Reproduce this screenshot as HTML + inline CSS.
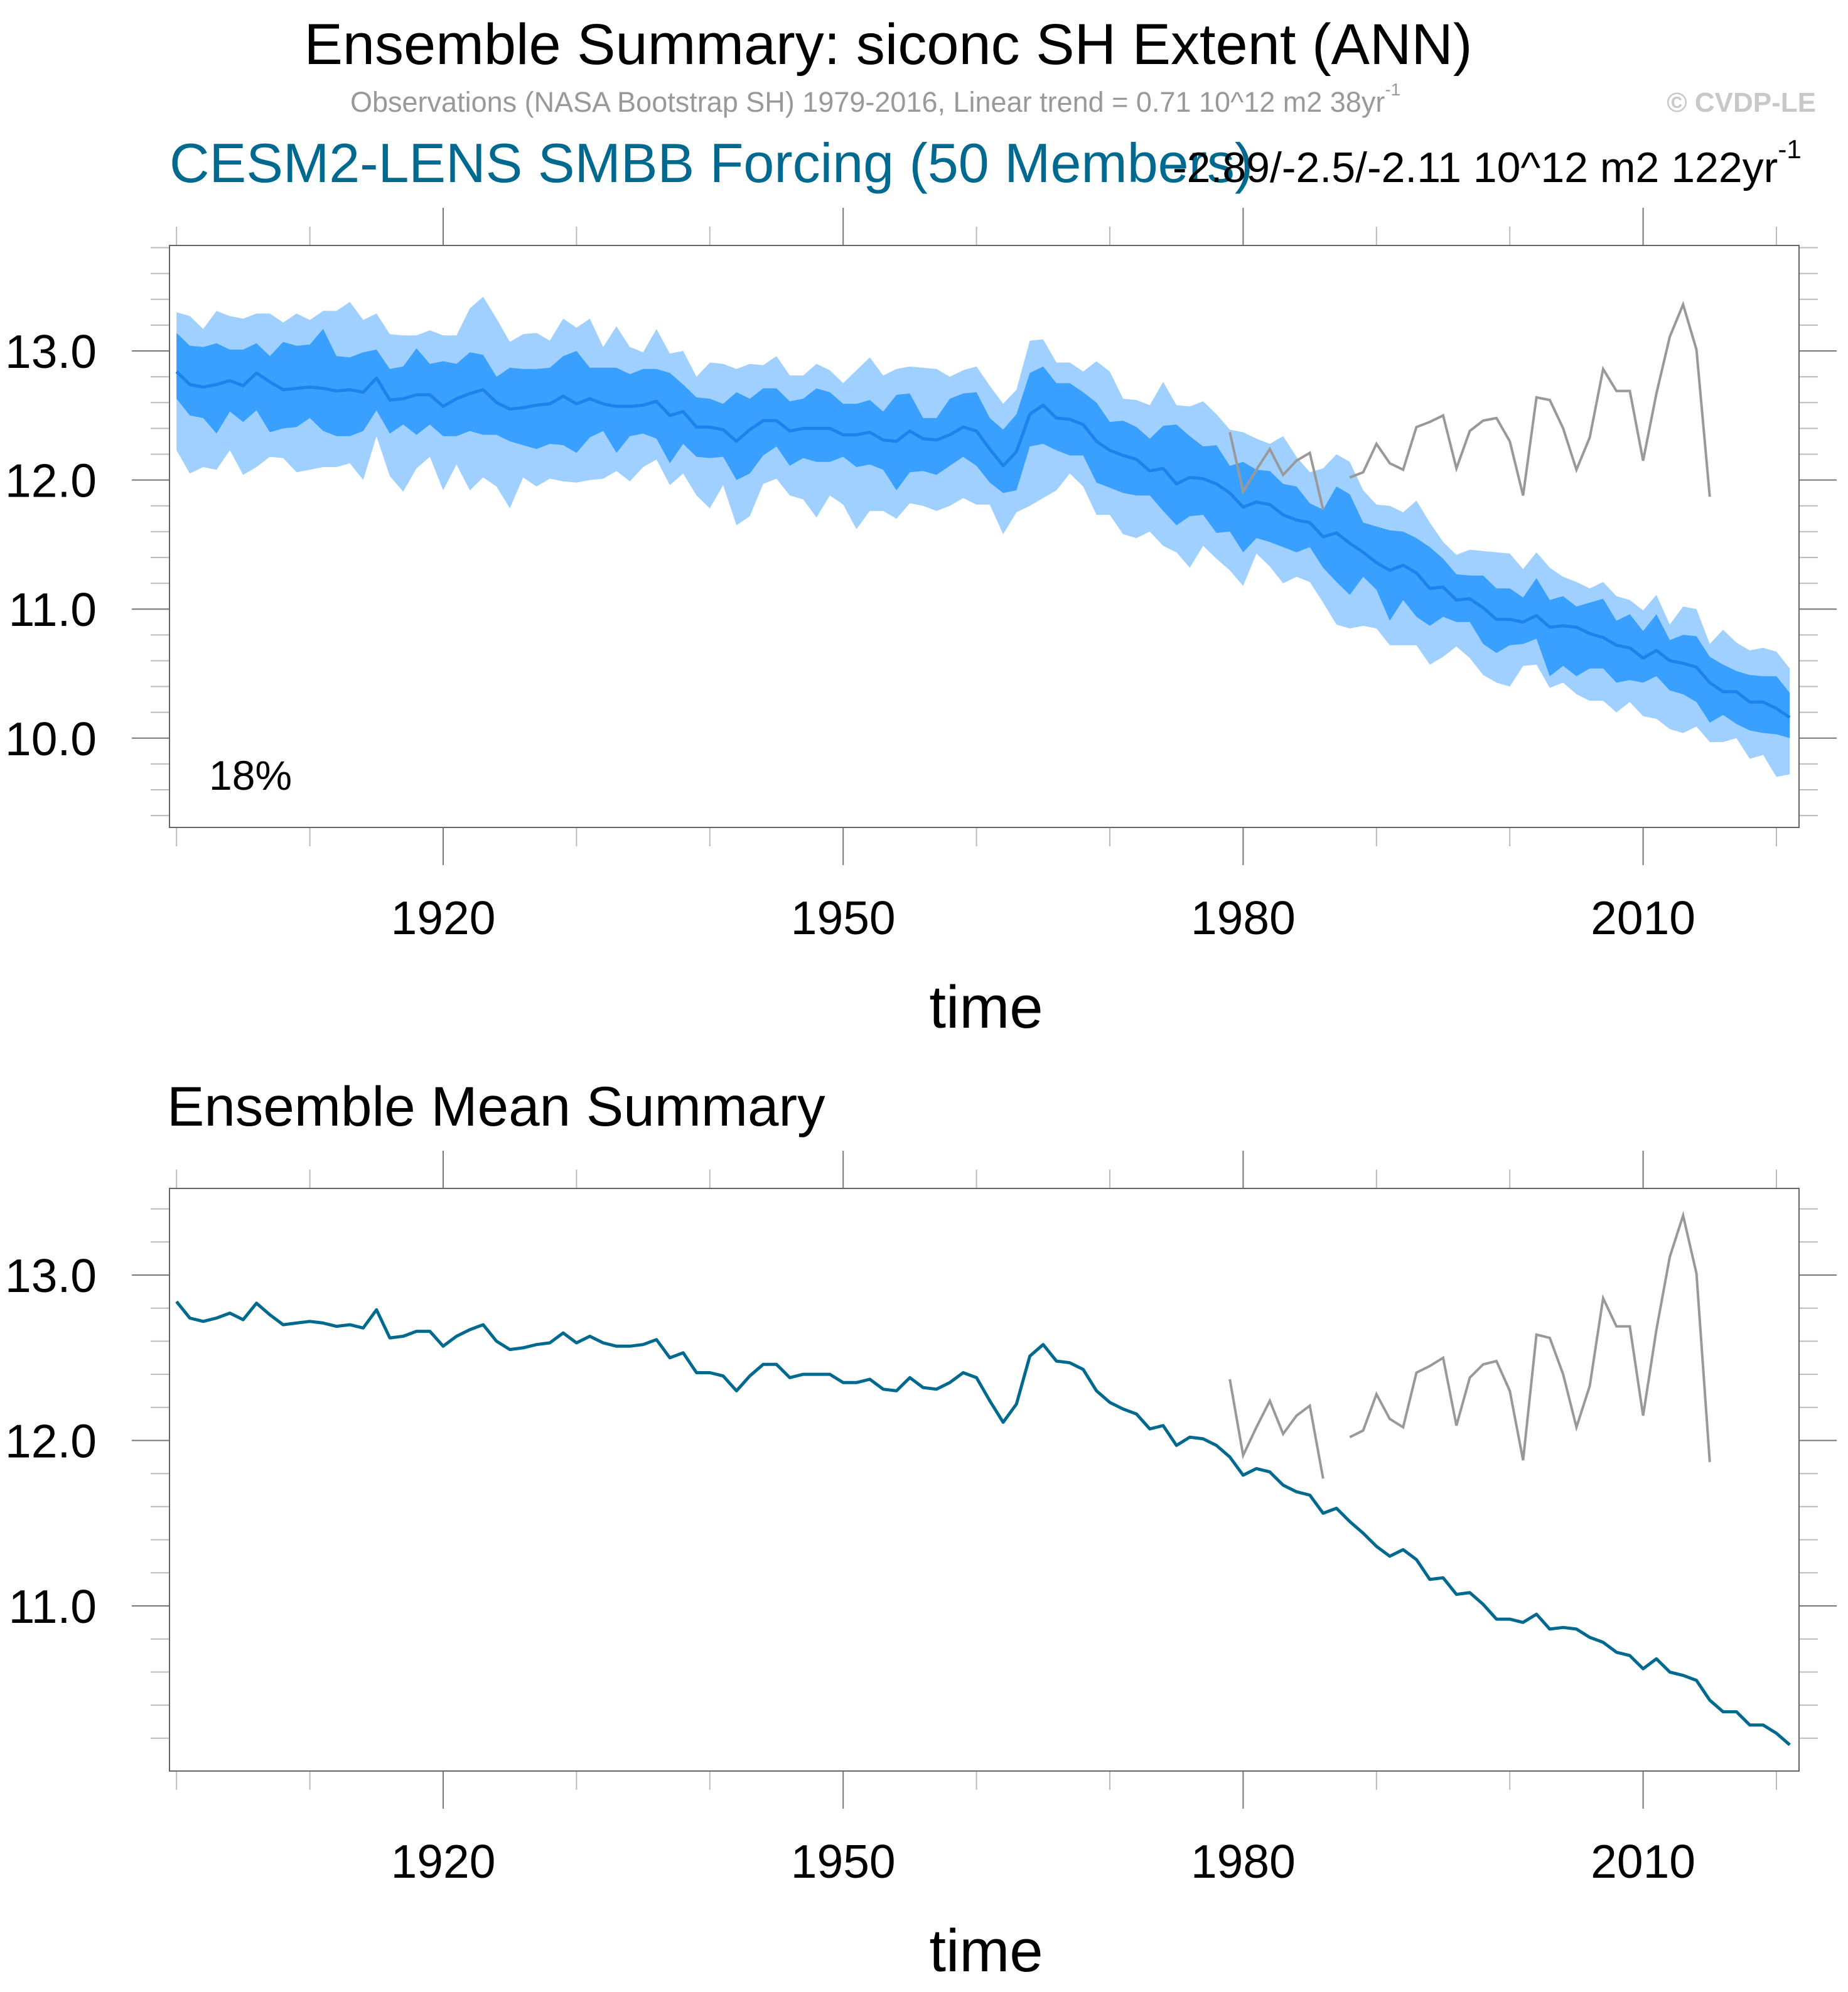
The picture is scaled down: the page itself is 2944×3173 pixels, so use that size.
<!DOCTYPE html>
<html><head><meta charset="utf-8"><style>html,body{margin:0;padding:0;background:#fff}svg{display:block}</style></head>
<body>
<svg id="chart" xmlns="http://www.w3.org/2000/svg" width="2944" height="3173" viewBox="0 0 2944 3173" font-family="'Liberation Sans', sans-serif">
<rect width="2944" height="3173" fill="#fff"/>
<text x="1415" y="102" font-size="92" text-anchor="middle" fill="#000">Ensemble Summary: siconc SH Extent (ANN)</text>
<text x="558" y="178" font-size="45" fill="#999">Observations (NASA Bootstrap SH) 1979-2016, Linear trend = 0.71 10^12 m2 38yr<tspan font-size="28" dy="-26">-1</tspan></text>
<text x="2893" y="178" font-size="44" font-weight="bold" fill="#c8c8c8" text-anchor="end">© CVDP-LE</text>
<text x="270" y="290" font-size="88" fill="#00698f">CESM2-LENS SMBB Forcing (50 Members)</text>
<text x="1868" y="290" font-size="68" fill="#000">-2.89/-2.5/-2.11 10^12 m2 122yr<tspan font-size="42" dy="-38">-1</tspan></text>
<text x="333" y="1258" font-size="66" fill="#000">18%</text>
<text x="266" y="1793" font-size="89" fill="#000">Ensemble Mean Summary</text>
<g id="top"></g>
<g id="bot"></g>
</svg>
<script>
const years = []; for (let y = 1900; y <= 2021; y++) years.push(y);
const ensMean = [12.84,12.74,12.72,12.74,12.77,12.73,12.83,12.76,12.70,12.71,12.72,12.71,12.69,12.70,12.68,12.79,12.62,12.63,12.66,12.66,
12.57,12.63,12.67,12.70,12.60,12.55,12.56,12.58,12.59,12.65,12.59,12.63,12.59,12.57,12.57,12.58,12.61,12.50,12.53,12.41,
12.41,12.39,12.30,12.39,12.46,12.46,12.38,12.40,12.40,12.40,12.35,12.35,12.37,12.31,12.30,12.38,12.32,12.31,12.35,12.41,
12.38,12.24,12.11,12.22,12.51,12.58,12.48,12.47,12.43,12.30,12.23,12.19,12.16,12.07,12.09,11.97,12.02,12.01,11.97,11.90,
11.79,11.83,11.81,11.73,11.69,11.67,11.56,11.59,11.51,11.44,11.36,11.30,11.34,11.28,11.16,11.17,11.07,11.08,11.01,10.92,
10.92,10.90,10.95,10.86,10.87,10.86,10.81,10.78,10.72,10.70,10.62,10.68,10.60,10.58,10.55,10.43,10.36,10.36,10.28,10.28,10.23,10.16];
const outerHigh = [13.30,13.27,13.17,13.31,13.27,13.25,13.29,13.29,13.22,13.29,13.24,13.31,13.31,13.38,13.24,13.29,13.13,13.12,13.12,13.16,
13.12,13.12,13.33,13.42,13.25,13.07,13.13,13.14,13.08,13.25,13.18,13.25,13.03,13.19,13.03,12.99,13.17,12.98,13.00,12.80,
12.91,12.90,12.86,12.90,12.89,12.96,12.81,12.81,12.90,12.85,12.75,12.85,12.95,12.81,12.86,12.88,12.87,12.86,
12.80,12.85,12.88,12.73,12.59,12.70,13.08,13.09,12.91,12.91,12.84,12.92,12.84,12.63,12.62,12.58,12.76,12.58,12.57,12.61,12.51,12.39,
12.37,12.32,12.28,12.34,12.18,12.06,12.09,12.20,12.14,11.92,11.81,11.80,11.75,11.84,11.67,11.52,11.42,11.46,11.45,11.44,
11.43,11.31,11.44,11.32,11.25,11.21,11.16,11.21,11.10,11.07,10.99,11.11,10.88,11.02,11.00,10.73,10.84,10.74,10.68,10.70,10.67,10.54];
const innerHigh = [13.14,13.04,13.03,13.06,13.01,13.01,13.06,12.96,13.07,13.04,13.05,13.17,12.96,12.95,12.99,13.01,12.86,12.88,13.02,12.90,
12.92,12.90,12.99,12.97,12.80,12.87,12.86,12.86,12.87,12.96,13.00,12.87,12.87,12.87,12.82,12.86,12.86,12.83,12.74,12.64,
12.63,12.59,12.68,12.63,12.71,12.71,12.61,12.63,12.71,12.68,12.59,12.59,12.62,12.53,12.66,12.67,12.48,12.48,
12.63,12.67,12.68,12.48,12.39,12.51,12.83,12.88,12.75,12.75,12.68,12.60,12.45,12.46,12.41,12.32,12.42,12.43,12.34,12.26,12.27,12.11,
12.14,12.08,12.07,11.97,11.95,11.82,11.77,11.95,11.89,11.67,11.64,11.61,11.60,11.55,11.48,11.39,11.27,11.26,11.26,11.16,
11.16,11.09,11.24,11.07,11.10,11.02,11.05,11.08,10.91,10.96,10.83,10.96,10.76,10.80,10.79,10.63,10.57,10.52,10.49,10.48,10.48,10.35];
const innerLow = [12.63,12.50,12.48,12.36,12.53,12.45,12.54,12.37,12.40,12.41,12.48,12.38,12.34,12.34,12.38,12.54,12.36,12.43,12.35,12.43,
12.34,12.34,12.38,12.35,12.35,12.30,12.27,12.24,12.28,12.27,12.21,12.33,12.38,12.21,12.34,12.36,12.32,12.13,12.28,12.18,
12.17,12.18,12.00,12.05,12.19,12.26,12.11,12.17,12.14,12.14,12.18,12.10,12.12,12.08,11.92,12.06,12.07,12.04,
12.11,12.18,12.11,11.98,11.90,11.92,12.26,12.28,12.23,12.19,12.19,11.98,11.94,11.90,11.88,11.88,11.76,11.65,11.72,11.73,11.59,11.60,
11.44,11.55,11.52,11.48,11.44,11.48,11.32,11.21,11.11,11.25,11.15,10.91,11.07,10.94,10.87,10.94,10.90,10.90,10.73,10.66,
10.72,10.73,10.77,10.48,10.56,10.48,10.54,10.54,10.43,10.45,10.43,10.48,10.37,10.34,10.28,10.12,10.18,10.11,10.06,10.04,10.03,10.00];
const outerLow = [12.23,12.05,12.10,12.08,12.23,12.04,12.10,12.18,12.17,12.06,12.08,12.10,12.10,12.13,12.00,12.34,12.03,11.91,12.09,12.18,
11.92,12.12,11.92,12.02,11.95,11.78,12.02,11.95,12.01,11.99,11.98,12.00,12.01,12.07,11.99,12.10,12.16,11.96,12.05,11.88,
11.78,11.96,11.65,11.72,11.97,12.01,11.88,11.85,11.71,11.88,11.81,11.62,11.76,11.76,11.70,11.82,11.80,11.76,
11.80,11.86,11.81,11.81,11.58,11.75,11.80,11.86,11.92,12.05,11.95,11.73,11.73,11.58,11.55,11.60,11.49,11.44,11.32,11.49,11.39,11.30,
11.18,11.43,11.33,11.20,11.25,11.21,11.05,10.88,10.85,10.87,10.85,10.72,10.72,10.72,10.57,10.63,10.71,10.62,10.49,10.43,
10.40,10.56,10.57,10.39,10.43,10.34,10.29,10.29,10.20,10.28,10.17,10.15,10.07,10.04,10.09,9.97,9.97,10.00,9.84,9.87,9.70,9.72];
const obsYears = []; for (let y = 1979; y <= 2015; y++) obsYears.push(y);
const obsValues = [12.37,11.91,12.08,12.24,12.04,12.15,12.21,11.77,null,12.02,12.06,12.28,12.13,12.08,12.41,12.45,12.50,12.09,12.38,12.46,
12.48,12.30,11.88,12.64,12.62,12.40,12.08,12.33,12.86,12.69,12.69,12.15,12.67,13.11,13.36,13.01,11.87];
const xMajorTicks = [1920, 1950, 1980, 2010];
const xMinorTicks = [1900, 1910, 1930, 1940, 1960, 1970, 1990, 2000, 2020];
const topYLabels = [10.0, 11.0, 12.0, 13.0];
const botYLabels = [11.0, 12.0, 13.0];

const NS = 'http://www.w3.org/2000/svg';
function mk(parent, tag, attrs) { const e = document.createElementNS(NS, tag); for (const k in attrs) e.setAttribute(k, attrs[k]); parent.appendChild(e); return e; }
const X0 = 270, X1 = 2866;
const xs = yr => 706 + (yr - 1920) * 21.24;

function axes(g, Y0, Y1, ys, vmin, vmax, labels, prefix) {
  xMajorTicks.concat(xMinorTicks).forEach(t => {
    const major = xMajorTicks.includes(t);
    const len = major ? 60 : 30, col = major ? '#777' : '#bbb';
    const a = mk(g, 'line', {x1: xs(t), x2: xs(t), y1: Y0 - len, y2: Y0, stroke: col, 'stroke-width': 2});
    
    
    const b = mk(g, 'line', {x1: xs(t), x2: xs(t), y1: Y1, y2: Y1 + len, stroke: col, 'stroke-width': 2});
    
    
    if (major) {
      const tx = mk(g, 'text', {x: xs(t), y: Y1 + 170, 'font-size': 75, 'text-anchor': 'middle', fill: '#000'});
      tx.textContent = t;
      
      
    }
  });
  const start = Math.ceil(vmin * 5 - 1e-6), end = Math.floor(vmax * 5 + 1e-6);
  for (let i = start; i <= end; i++) {
    const v = i / 5, major = Math.abs(v - Math.round(v)) < 1e-6;
    const len = major ? 60 : 30, col = major ? '#777' : '#bbb';
    const l = mk(g, 'line', {x1: X0 - len, x2: X0, y1: ys(v), y2: ys(v), stroke: col, 'stroke-width': 2});
    
    
    const r = mk(g, 'line', {x1: X1, x2: X1 + len, y1: ys(v), y2: ys(v), stroke: col, 'stroke-width': 2});
    
    
  }
  labels.forEach(v => {
    const tx = mk(g, 'text', {x: 154, y: ys(v) + 27, 'font-size': 75, 'text-anchor': 'end', fill: '#000'});
    tx.textContent = v.toFixed(1);
    
    
  });
  const fr = mk(g, 'rect', {x: X0, y: Y0, width: X1 - X0, height: Y1 - Y0, fill: 'none', stroke: '#666', 'stroke-width': 2});
  
  
  const xt = mk(g, 'text', {x: 1571, y: Y1 + 319, 'font-size': 96, 'text-anchor': 'middle', fill: '#000'});
  xt.textContent = 'time';
  
  
}

function linePath(xv, yv, ys) {
  let d = '', pen = false;
  xv.forEach((x, i) => { const v = yv[i]; if (v === null) { pen = false; return; } d += (pen ? 'L' : 'M') + xs(x).toFixed(1) + ',' + ys(v).toFixed(1); pen = true; });
  return d;
}
function bandPath(hi, lo, ys) {
  let d = '';
  years.forEach((y, i) => d += (i ? 'L' : 'M') + xs(y).toFixed(1) + ',' + ys(hi[i]).toFixed(1));
  for (let i = years.length - 1; i >= 0; i--) d += 'L' + xs(years[i]).toFixed(1) + ',' + ys(lo[i]).toFixed(1);
  return d + 'Z';
}

const gt = document.getElementById('top');
const ysT = v => 559 - (v - 13) * 205.6;
const ob = mk(gt, 'path', {d: bandPath(outerHigh, outerLow, ysT), fill: '#9fd0ff'});


const ib = mk(gt, 'path', {d: bandPath(innerHigh, innerLow, ysT), fill: '#3aa0ff'});


const ml = mk(gt, 'path', {d: linePath(years, ensMean, ysT), fill: 'none', stroke: '#1a84ec', 'stroke-width': 5, 'stroke-linejoin': 'round'});


const ol = mk(gt, 'path', {d: linePath(obsYears, obsValues, ysT), fill: 'none', stroke: '#999', 'stroke-width': 4});


axes(gt, 391, 1318, ysT, 9.31, 13.817, topYLabels, 'top');

const gb = document.getElementById('bot');
const ysB = v => 2031 - (v - 13) * 263.5;
const ol2 = mk(gb, 'path', {d: linePath(obsYears, obsValues, ysB), fill: 'none', stroke: '#999', 'stroke-width': 4});


const ml2 = mk(gb, 'path', {d: linePath(years, ensMean, ysB), fill: 'none', stroke: '#00698f', 'stroke-width': 5, 'stroke-linejoin': 'round'});


axes(gb, 1893, 2821, ysB, 10.05, 13.525, botYLabels, 'bottom');
</script>
</body></html>
